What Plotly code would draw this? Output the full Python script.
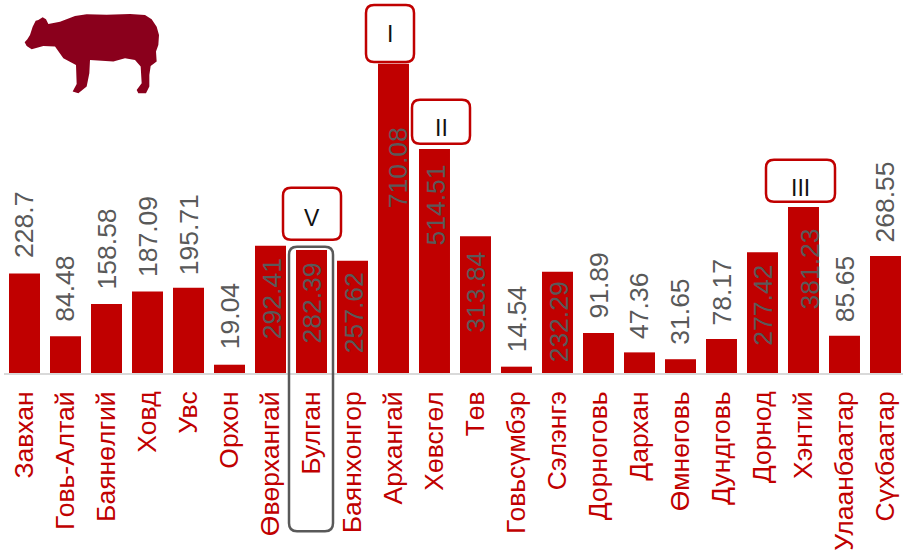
import plotly.graph_objects as go

aimags = ["Завхан", "Говь-Алтай", "Баянөлгий", "Ховд", "Увс", "Орхон", "Өвөрхангай", "Булган",
          "Баянхонгор", "Архангай", "Хөвсгөл", "Төв", "Говьсүмбэр", "Сэлэнгэ", "Дорноговь", "Дархан",
          "Өмнөговь", "Дундговь", "Дорнод", "Хэнтий", "Улаанбаатар", "Сүхбаатар"]
values = [228.7, 84.48, 158.58, 187.09, 195.71, 19.04, 292.41, 282.39, 257.62, 710.08, 514.51,
          313.84, 14.54, 232.29, 91.89, 47.36, 31.65, 78.17, 277.42, 381.23, 85.65, 268.55]
label_yshift = [48, 47, 55, 55, 53, 48, -53, -53, -52, -104, -56, -56, 47, -50, 47, 46, 48, 47, -53, -62, 47, 54]
label_xshift = [0, 0, 0, 0, 0, 0, 1, 1, 1, 4, 1, 1, 0, 1, 0, 0, 0, 0, 1, 7, 0, 0]

W, H = 903, 557
L, BASE = 4, 373.5
RED = "#c00000"
GREY = "#595959"
FONT = "Liberation Sans, Arial, sans-serif"


def px(x):
    return (x - L) / (W - L)


def py(y):
    return (BASE - y) / BASE


def round_box(x0, y0, x1, y1, r=8):
    return (f"M {px(x0 + r)} {py(y0)} L {px(x1 - r)} {py(y0)} Q {px(x1)} {py(y0)} {px(x1)} {py(y0 + r)} "
            f"L {px(x1)} {py(y1 - r)} Q {px(x1)} {py(y1)} {px(x1 - r)} {py(y1)} "
            f"L {px(x0 + r)} {py(y1)} Q {px(x0)} {py(y1)} {px(x0)} {py(y1 - r)} "
            f"L {px(x0)} {py(y0 + r)} Q {px(x0)} {py(y0)} {px(x0 + r)} {py(y0)} Z")


fig = go.Figure(go.Bar(x=aimags, y=values, marker=dict(color=RED, line=dict(width=0)), width=0.756))

annotations = [
    dict(x=c, y=v, xref="x", yref="y", text=str(v), showarrow=False, textangle=-90,
         xshift=xs, yshift=ys, font=dict(family=FONT, size=26.5, color=GREY))
    for c, v, xs, ys in zip(aimags, values, label_xshift, label_yshift)
]

rank_boxes = [("I", 366, 5, 414, 62, 390, 34), ("II", 412, 100, 470, 144, 441, 128),
              ("III", 766, 160, 835, 202, 800, 188), ("V", 283, 188, 341, 240, 312, 218)]
shapes = []
for text, x0, y0, x1, y1, tx, ty in rank_boxes:
    shapes.append(dict(type="path", xref="paper", yref="paper", path=round_box(x0, y0, x1, y1),
                       fillcolor="white", line=dict(color=RED, width=2.5)))
    annotations.append(dict(x=px(tx), y=py(ty), xref="paper", yref="paper", text=text, showarrow=False,
                            xanchor="center", yanchor="middle",
                            font=dict(family=FONT, size=23, color="#111111")))

shapes.append(dict(type="path", xref="paper", yref="paper", path=round_box(289, 247, 333, 532),
                   line=dict(color=GREY, width=2.5), layer="above"))

cow = [(14, 97), (22, 88), (30, 75), (38, 50), (47, 32), (55, 30), (68, 22), (78, 28), (85, 42), (120, 35), (165, 18),
       (200, 13), (260, 14), (330, 12), (375, 15), (395, 28), (410, 50), (417, 75), (415, 105), (408, 125),
       (410, 155), (392, 168), (388, 195), (388, 230), (378, 250), (355, 250), (350, 240), (365, 220),
       (362, 170), (345, 150), (315, 145), (280, 155), (210, 150), (208, 190), (200, 230), (175, 250),
       (158, 245), (170, 222), (168, 165), (130, 145), (105, 110), (70, 108), (35, 118), (20, 108)]
cow_path = "M " + " L ".join(f"{px(20 + a / 3)} {py(10 + b / 3)}" for a, b in cow) + " Z"
shapes.append(dict(type="path", xref="paper", yref="paper", path=cow_path, fillcolor="#8a001c",
                   line=dict(width=0)))

fig.update_layout(
    width=W, height=H, margin=dict(l=L, r=0, t=0, b=H - BASE, autoexpand=False),
    paper_bgcolor="white", plot_bgcolor="white", showlegend=False,
    annotations=annotations, shapes=shapes,
    xaxis=dict(range=[-0.5, 21.427], type="category", categoryorder="array", categoryarray=aimags,
               tickmode="array", tickvals=aimags, ticktext=aimags,
               tickangle=-90, ticks="", showgrid=False, showline=True, linecolor="#d9d9d9", linewidth=1.5,
               tickfont=dict(family=FONT, size=26.5, color=RED), ticklabelstandoff=6, automargin=False),
    yaxis=dict(range=[0, BASE / 0.436], visible=False, showgrid=False, zeroline=False),
)
fig.write_html("out.html", config=dict(displayModeBar=False),
               post_script="document.body.style.margin='0';document.documentElement.style.overflow='hidden';")
